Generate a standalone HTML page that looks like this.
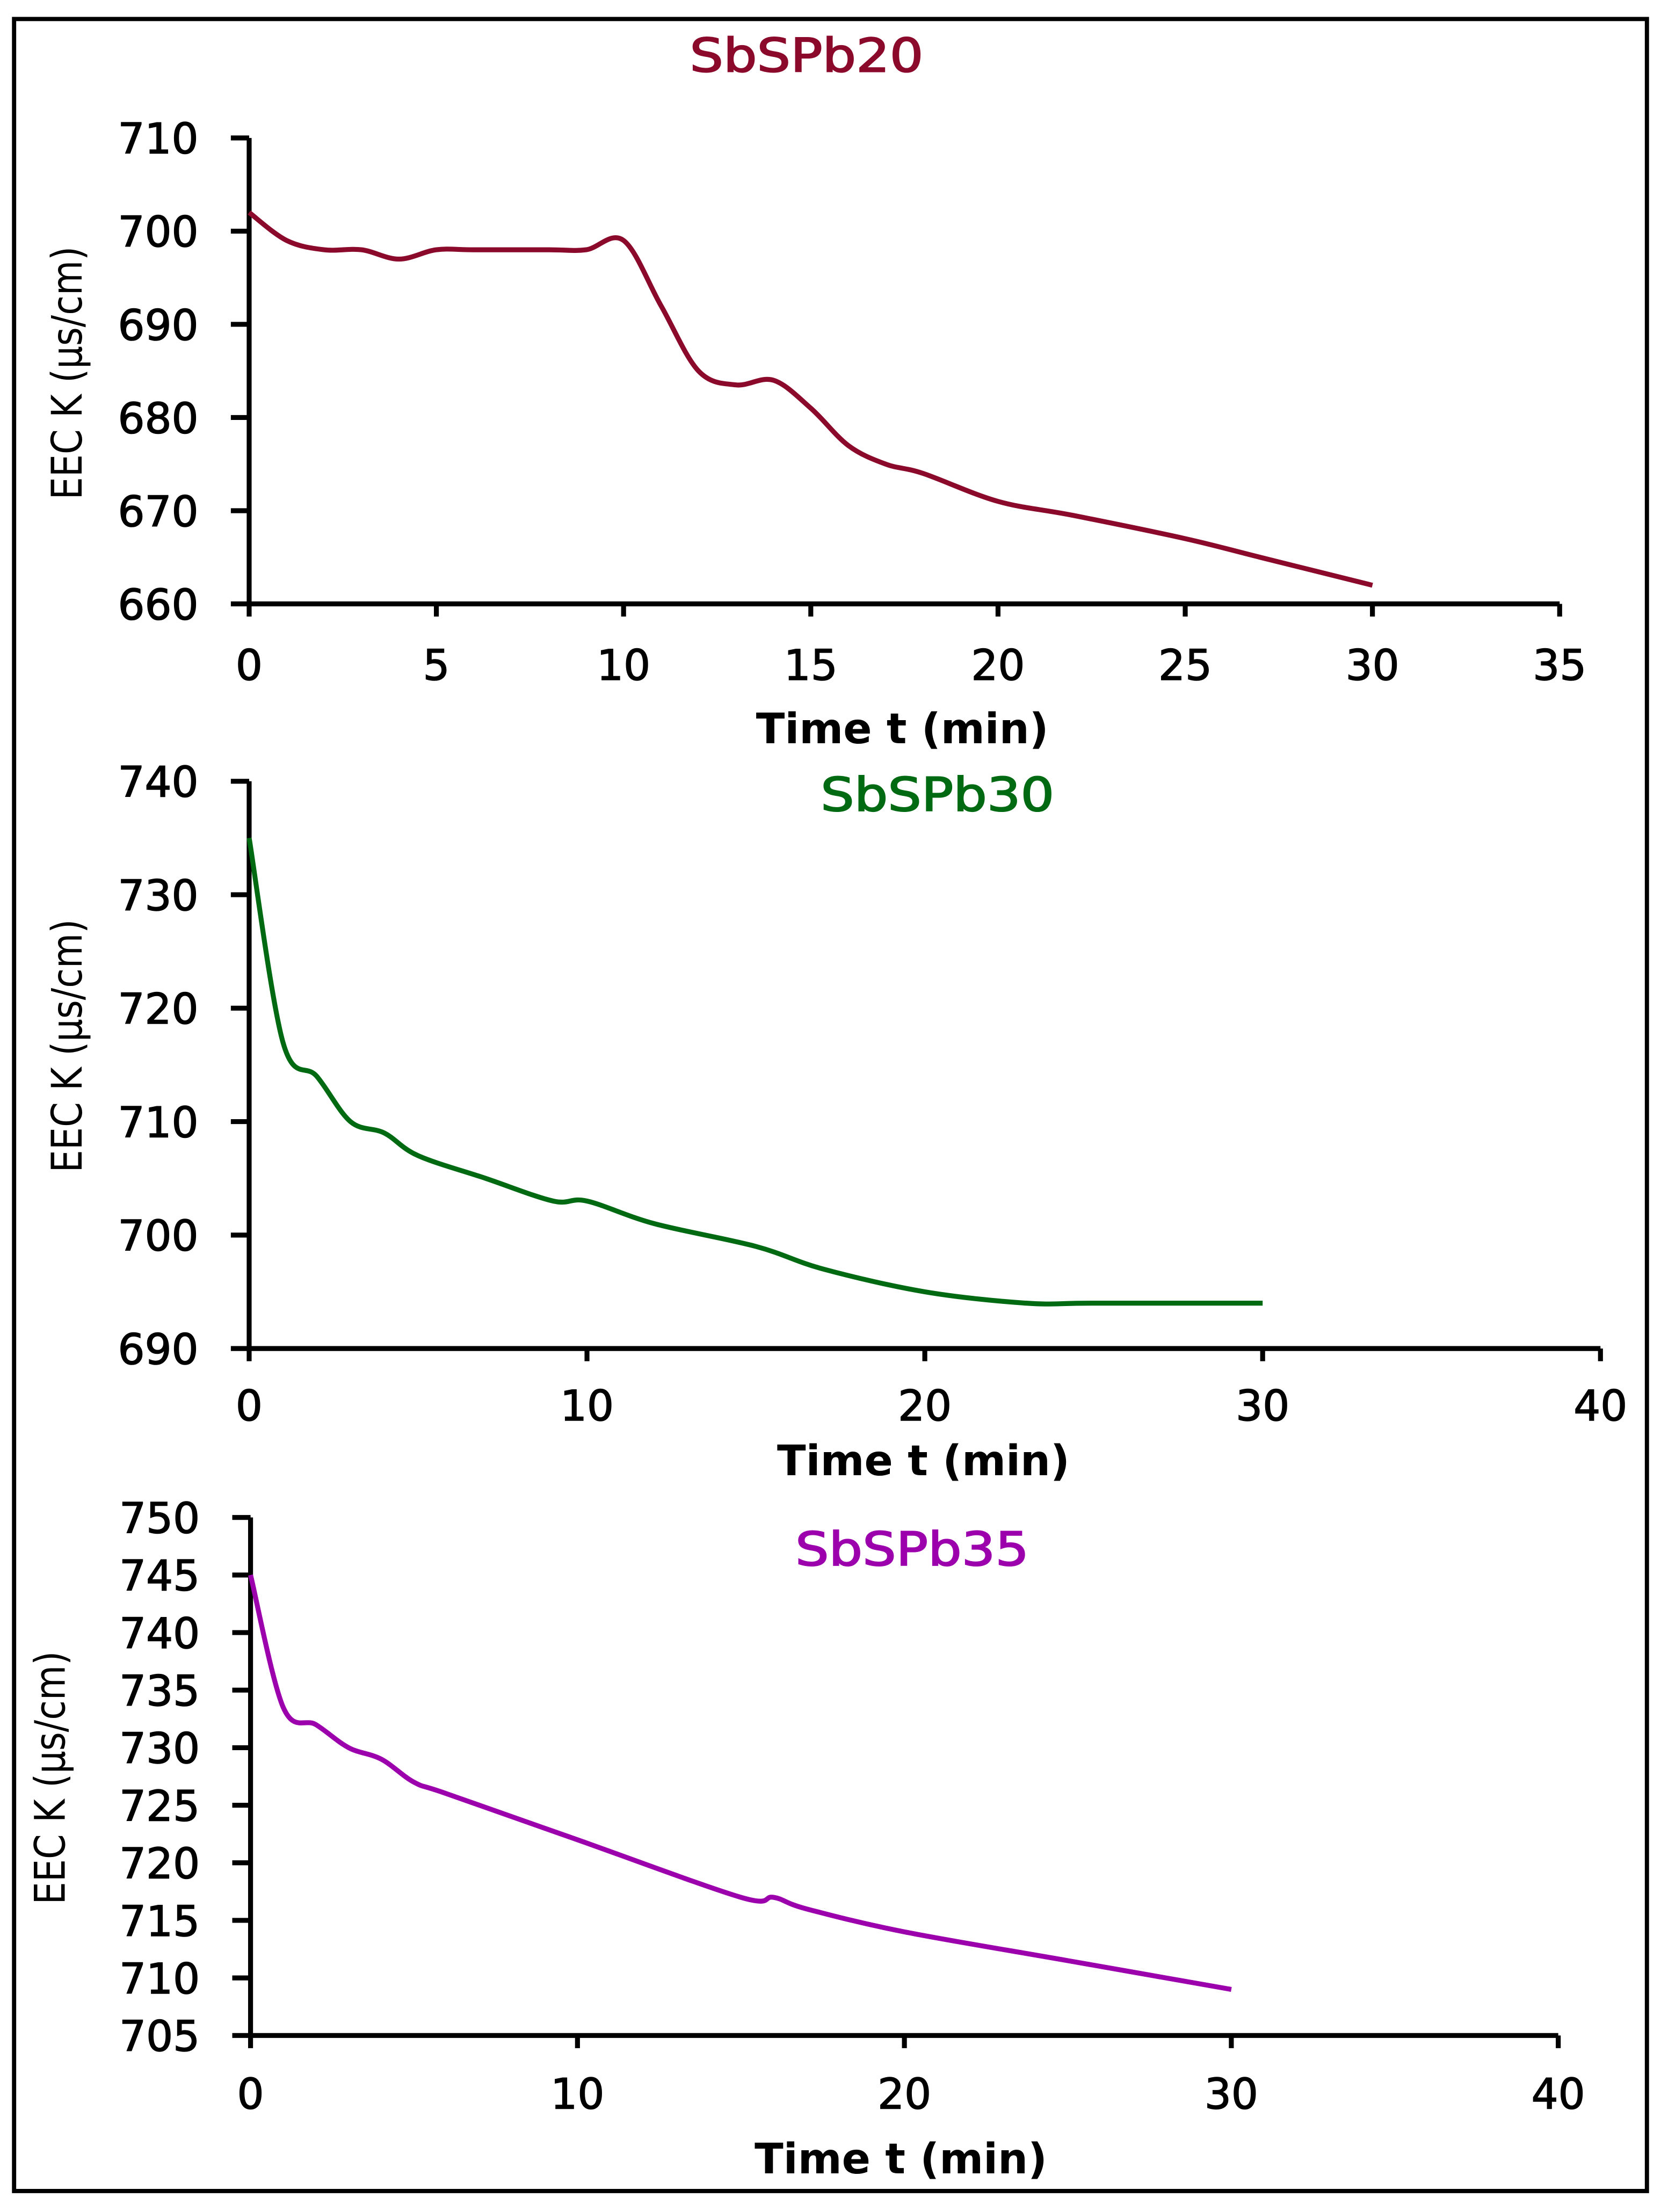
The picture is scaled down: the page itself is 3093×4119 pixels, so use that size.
<!DOCTYPE html>
<html><head><meta charset="utf-8"><style>
html,body{margin:0;padding:0;background:#fff}
svg{display:block}
text{font-family:"DejaVu Sans","Liberation Sans",sans-serif}
</style></head><body>
<svg id="fig" width="3093" height="4119" viewBox="0 0 1180 1571.4" preserveAspectRatio="none" xmlns="http://www.w3.org/2000/svg">
<rect x="10" y="13.5" width="1160" height="1543" fill="none" stroke="#000" stroke-width="3"/>
<g id="plots"></g>
</svg>
<script>
const t20=[0,1,2,3,4,5,6,8,9,10,11,12,13,14,15,16,17,18,20,22,25,27,30];
const k20=[702,699,698,698,697,698,698,698,698,699,692,685,683.5,684,681,677,675,674,671,669.5,667,665,662];
const t30=[0,1,2,3,4,5,7,9,10,12,15,17,20,23,25,30];
const k30=[735,717,714,710,709,707,705,703,703,701,699,697,695,694,694,694];
const t35=[0,1,2,3,4,5,6,10,15,16,17,20,25,30];
const k35=[745,733.5,732,730,729,727,726,722,717,717,716,714,711.5,709];
const yt20=[660,670,680,690,700,710];
const xt20=[0,5,10,15,20,25,30,35];
const yt30=[690,700,710,720,730,740];
const xt30=[0,10,20,30,40];
const yt35=[705,710,715,720,725,730,735,740,745,750];
const xt35=[0,10,20,30,40];

const NS="http://www.w3.org/2000/svg";
const root=document.getElementById('plots');
function mk(tag,attrs,parent){const e=document.createElementNS(NS,tag);for(const k in attrs)e.setAttribute(k,attrs[k]);(parent||root).appendChild(e);return e;}

function panel(cfg){
  const g=mk('g',{});
  
  
  const xs=v=>cfg.x0+(v-cfg.xmin)/(cfg.xmax-cfg.xmin)*(cfg.x1-cfg.x0);
  const ys=v=>cfg.y0-(v-cfg.ymin)/(cfg.ymax-cfg.ymin)*(cfg.y0-cfg.y1);
  const ya=mk('line',{x1:cfg.x0,y1:cfg.y1,x2:cfg.x0,y2:cfg.y0,stroke:'#000','stroke-width':3.5},g);
  
  
  const xa=mk('line',{x1:cfg.x0,y1:cfg.y0,x2:cfg.x1,y2:cfg.y0,stroke:'#000','stroke-width':3.5},g);
  
  
  cfg.yt.forEach(v=>{
    const y=ys(v);
    mk('line',{x1:cfg.x0-13,y1:y,x2:cfg.x0,y2:y,stroke:'#000','stroke-width':3.5},g);
    const t=mk('text',{x:cfg.x0-36,y:y+11,'text-anchor':'end','font-size':30,stroke:'#000','stroke-width':0.6},g);
    
    
    t.textContent=v;
  });
  cfg.xt.forEach(v=>{
    const x=xs(v);
    mk('line',{x1:x,y1:cfg.y0,x2:x,y2:cfg.y0+9,stroke:'#000','stroke-width':3.5},g);
    const t=mk('text',{x:x,y:cfg.xly,'text-anchor':'middle','font-size':30,stroke:'#000','stroke-width':0.6},g);
    
    
    t.textContent=v;
  });
  const xt=mk('text',{x:cfg.xtx,y:cfg.xty,'text-anchor':'middle','font-size':30,'font-family':'"Liberation Sans",sans-serif','font-weight':'bold'},g);
  
  
  xt.textContent='Time t (min)';
  const ytl=mk('text',{x:0,y:0,'text-anchor':'middle','font-size':30,'font-family':'"Liberation Sans",sans-serif',textLength:180,lengthAdjust:'spacingAndGlyphs',transform:`translate(${cfg.ytx},${cfg.yty}) rotate(-90)`},g);
  
  
  ytl.textContent='EEC K (µs/cm)';
  const ti=mk('text',{x:cfg.tx,y:cfg.ty,'text-anchor':'middle','font-size':33,fill:cfg.color,stroke:cfg.color,'stroke-width':0.8,textLength:166,lengthAdjust:'spacingAndGlyphs'},g);
  
  
  ti.textContent=cfg.title;
  const P=cfg.t.map((v,i)=>[xs(v),ys(cfg.k[i])]);
  let d='M'+P[0][0]+','+P[0][1];
  for(let i=0;i<P.length-1;i++){
    const p0=P[i-1]||P[i],p1=P[i],p2=P[i+1],p3=P[i+2]||P[i+1];
    const c1=[p1[0]+(p2[0]-p0[0])/6,p1[1]+(p2[1]-p0[1])/6];
    const c2=[p2[0]-(p3[0]-p1[0])/6,p2[1]-(p3[1]-p1[1])/6];
    d+=` C${c1[0]},${c1[1]} ${c2[0]},${c2[1]} ${p2[0]},${p2[1]}`;
  }
  const ln=mk('path',{d:d,fill:'none',stroke:cfg.color,'stroke-width':3.5},g);
  
  
}
panel({name:'chart-sbspb20',t:t20,k:k20,yt:yt20,xt:xt20,xmin:0,xmax:35,ymin:660,ymax:710,x0:177,x1:1108,y0:429,y1:98,xly:483,xtx:641,xty:528,ytx:58,yty:265,tx:573,ty:51,title:'SbSPb20',color:'#8b0a2b'});
panel({name:'chart-sbspb30',t:t30,k:k30,yt:yt30,xt:xt30,xmin:0,xmax:40,ymin:690,ymax:740,x0:177,x1:1137,y0:958,y1:555,xly:1009,xtx:656,xty:1048,ytx:58,yty:743,tx:666,ty:576,title:'SbSPb30',color:'#006a12'});
panel({name:'chart-sbspb35',t:t35,k:k35,yt:yt35,xt:xt35,xmin:0,xmax:40,ymin:705,ymax:750,x0:178,x1:1107,y0:1446,y1:1078,xly:1498,xtx:640,xty:1544,ytx:46,yty:1263,tx:648,ty:1112,title:'SbSPb35',color:'#9c00ad'});
</script>
</body></html>
